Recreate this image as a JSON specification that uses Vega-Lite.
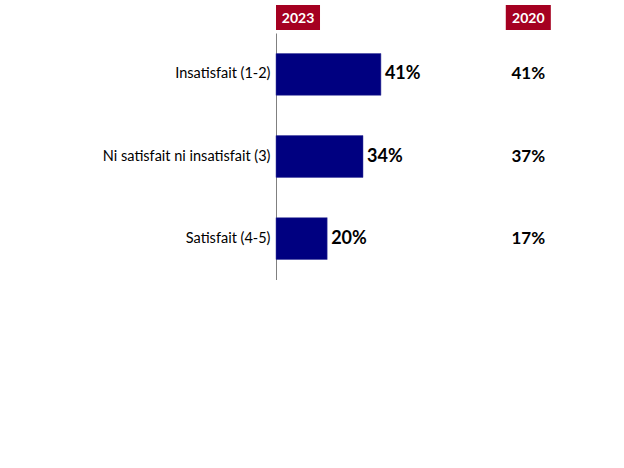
{
  "$schema": "https://vega.github.io/schema/vega-lite/v6.json",
  "background": "white",
  "padding": {"top": 5, "left": 0, "right": 0, "bottom": 0},
  "spacing": 3,
  "config": {"view": {"stroke": null}, "font": "Lato"},
  "vconcat": [
    {
      "width": 348,
      "height": 25,
      "data": {"values": [{"a": 1}]},
      "layer": [
        {"mark": {"type": "rect", "color": "#A50021"}, "encoding": {"x": {"datum": 0, "type": "quantitative", "scale": {"domain": [0, 1.36], "nice": false, "zero": false}, "axis": null}, "x2": {"datum": 0.172}}},
        {"mark": {"type": "rect", "color": "#A50021"}, "encoding": {"x": {"datum": 0.898, "type": "quantitative"}, "x2": {"datum": 1.074}}},
        {"mark": {"type": "text", "color": "white", "fontWeight": "bold", "fontSize": 14, "dy": 1}, "encoding": {"x": {"datum": 0.086, "type": "quantitative"}, "text": {"value": "2023"}}},
        {"mark": {"type": "text", "color": "white", "fontWeight": "bold", "fontSize": 14, "dy": 1}, "encoding": {"x": {"datum": 0.986, "type": "quantitative"}, "text": {"value": "2020"}}}
      ]
    },
    {
      "width": 348,
      "height": 247,
      "data": {"values": [
        {"cat": "Insatisfait (1-2)", "v2023": 0.41, "v2020": 0.41},
        {"cat": "Ni satisfait ni insatisfait (3)", "v2023": 0.34, "v2020": 0.37},
        {"cat": "Satisfait (4-5)", "v2023": 0.20, "v2020": 0.17}
      ]},
      "encoding": {
        "y": {"field": "cat", "type": "nominal", "sort": null, "title": null,
          "scale": {"paddingInner": 0.49, "paddingOuter": 0.25},
          "axis": {"ticks": false, "grid": false, "domainColor": "#808080", "domainWidth": 1, "labelPadding": 6, "labelFontSize": 14.5, "labelColor": "black", "labelLimit": 300, "minExtent": 276, "maxExtent": 276}}
      },
      "layer": [
        {"mark": {"type": "bar", "color": "#000080", "stroke": "#3a3a9a", "strokeWidth": 0.5}, "encoding": {"x": {"field": "v2023", "type": "quantitative", "scale": {"domain": [0, 1.36], "nice": false}, "axis": null}}},
        {"mark": {"type": "text", "align": "left", "dx": 4, "fontWeight": "bold", "fontSize": 18, "color": "black"}, "encoding": {"x": {"field": "v2023", "type": "quantitative"}, "text": {"field": "v2023", "type": "quantitative", "format": ".0%"}}},
        {"mark": {"type": "text", "align": "center", "fontWeight": "bold", "fontSize": 17, "color": "black"}, "encoding": {"x": {"datum": 0.986, "type": "quantitative"}, "text": {"field": "v2020", "type": "quantitative", "format": ".0%"}}}
      ]
    }
  ]
}
